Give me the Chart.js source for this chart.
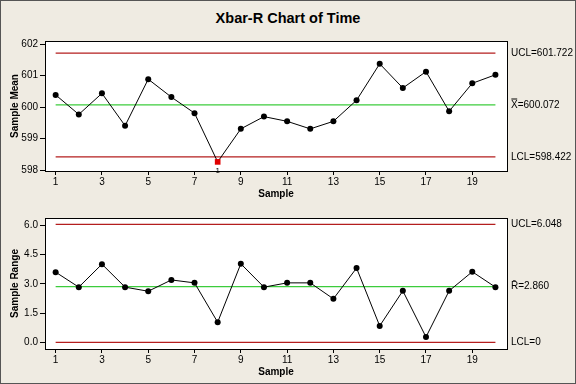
<!DOCTYPE html>
<html><head><meta charset="utf-8">
<script src="https://cdn.jsdelivr.net/npm/chart.js@4.4.0/dist/chart.umd.min.js"></script>
<style>
html,body{margin:0;padding:0;background:#efebe2;}
#wrap{position:relative;width:576px;height:384px;background:#efebe2;overflow:hidden}
#frame{position:absolute;left:0;top:0;width:576px;height:384px;box-sizing:border-box;border:1px solid #555;pointer-events:none}
#title{position:absolute;left:0;top:10px;width:576px;text-align:center;font:bold 14.5px "Liberation Sans",Arial,sans-serif;color:#000}
#c1{position:absolute;left:0;top:0}
#c2{position:absolute;left:0;top:196px}
</style></head>
<body>
<div id="wrap">
  <div id="title">Xbar-R Chart of Time</div>
  <canvas id="c1" width="576" height="200"></canvas>
  <canvas id="c2" width="576" height="182"></canvas>
  <div id="frame"></div>
</div>
<script>
// ---- data ----
const samples = [1,2,3,4,5,6,7,8,9,10,11,12,13,14,15,16,17,18,19,20];
const means = [600.39,599.77,600.44,599.41,600.89,600.32,599.81,598.26,599.31,599.70,599.55,599.31,599.55,600.22,601.38,600.61,601.13,599.87,600.76,601.03];
const ranges = [3.60,2.83,4.01,2.83,2.62,3.20,3.05,1.03,4.03,2.83,3.05,3.05,2.23,3.81,0.84,2.64,0.27,2.64,3.62,2.83];
const meanLimits = {ucl:601.722, cl:600.072, lcl:598.422};
const rangeLimits = {ucl:6.048, cl:2.860, lcl:0};
const meanLimitLabels = ['UCL=601.722','X\u033F=600.072','LCL=598.422'];
const rangeLimitLabels = ['UCL=6.048','R\u0304=2.860','LCL=0'];
const xTicks = [1,3,5,7,9,11,13,15,17,19];
const meanTicks = [598,599,600,601,602];
const rangeTicks = [0,1.5,3,4.5,6];
const meanTickLabels = ['598','599','600','601','602'];
const rangeTickLabels = ['0.0','1.5','3.0','4.5','6.0'];

const FONT = '"Liberation Sans", Arial, sans-serif';
const RED = '#b41e1e', GREEN = '#3ccc3c';

function limitLine(v, color){
  return {data:[{x:samples[0],y:v},{x:samples[samples.length-1],y:v}], borderColor:color, borderWidth:1.2,
    pointRadius:0, fill:false, tension:0, order:2};
}

const framePlugin = {
  id:'frame',
  beforeDraw(chart){
    const {ctx, chartArea:a} = chart;
    ctx.save(); ctx.fillStyle='#fff'; ctx.fillRect(a.left,a.top,a.right-a.left,a.bottom-a.top); ctx.restore();
  },
  afterDatasetsDraw(chart, args, opts){
    const {ctx, chartArea:a} = chart;
    ctx.save();
    ctx.strokeStyle='#000'; ctx.lineWidth=1;
    ctx.strokeRect(Math.round(a.left)+0.5, Math.round(a.top)+0.5, Math.round(a.right-a.left), Math.round(a.bottom-a.top));
    const ys = chart.scales.y;
    ctx.fillStyle='#000'; ctx.font='10px '+FONT; ctx.textBaseline='middle'; ctx.textAlign='left';
    opts.vals.forEach((v,i)=>{ ctx.fillText(opts.labels[i], a.right+4, ys.getPixelForValue(v)); });
    if (opts.flags){
      const xs = chart.scales.x;
      ctx.font='8px '+FONT; ctx.textAlign='center';
      opts.flags.forEach((f,i)=>{ if(f){ ctx.fillText('1', xs.getPixelForValue(samples[i]), ys.getPixelForValue(opts.data[i])+9); }});
    }
    ctx.restore();
  }
};

function makeChart(id, data, lim, limLabels, yMin, yMax, yTicks, yTickLabels, yTitle, topPad){
  const out = data.map(v => v>lim.ucl || v<lim.lcl);
  return new Chart(document.getElementById(id), {
    type:'line',
    data:{datasets:[
      {data:data.map((v,i)=>({x:samples[i],y:v})), borderColor:'#000', borderWidth:1,
        pointStyle:out.map(o=>o?'rect':'circle'), pointRadius:out.map(o=>o?4:3),
        pointBackgroundColor:out.map(o=>o?'#e00000':'#000'), pointBorderColor:out.map(o=>o?'#e00000':'#000'),
        pointBorderWidth:0, tension:0, fill:false, order:1},
      limitLine(lim.ucl, RED), limitLine(lim.cl, GREEN), limitLine(lim.lcl, RED)
    ]},
    options:{
      responsive:false, animation:false, events:[],
      layout:{padding:{left:0,right:69,top:topPad,bottom:0}},
      plugins:{legend:{display:false}, tooltip:{enabled:false},
        frame:{vals:[lim.ucl,lim.cl,lim.lcl], labels:limLabels, flags:out, data:data}},
      scales:{
        x:{type:'linear', min:0.54, max:20.5,
          afterBuildTicks:s=>{ s.ticks = xTicks.map(v=>({value:v})); },
          grid:{drawOnChartArea:false, drawTicks:true, tickLength:4, color:'#000'},
          border:{display:false},
          ticks:{font:{family:FONT,size:10}, color:'#000', padding:1, maxRotation:0, autoSkip:false, callback:v=>String(v)},
          title:{display:true, text:'Sample', color:'#000', font:{family:FONT,size:10,weight:'bold'}, padding:0},
          afterFit:s=>{ s.height=29; }
        },
        y:{min:yMin, max:yMax,
          afterBuildTicks:s=>{ s.ticks = yTicks.map(v=>({value:v})); },
          grid:{drawOnChartArea:false, drawTicks:true, tickLength:5, color:'#000'},
          border:{display:false},
          ticks:{font:{family:FONT,size:10}, color:'#000', padding:2, autoSkip:false,
            callback:(v)=>{ const i=yTicks.indexOf(v); return i>=0?yTickLabels[i]:''; }},
          title:{display:true, text:yTitle, color:'#000', font:{family:FONT,size:10,weight:'bold'}, padding:{top:9,bottom:0}},
          afterFit:s=>{ s.width=45; }
        }
      }
    },
    plugins:[framePlugin]
  });
}

makeChart('c1', means, meanLimits, meanLimitLabels, 597.97, 602.105, meanTicks, meanTickLabels, 'Sample Mean', 41);
makeChart('c2', ranges, rangeLimits, rangeLimitLabels, -0.345, 6.38, rangeTicks, rangeTickLabels, 'Sample Range', 22);
</script>
</body></html>
